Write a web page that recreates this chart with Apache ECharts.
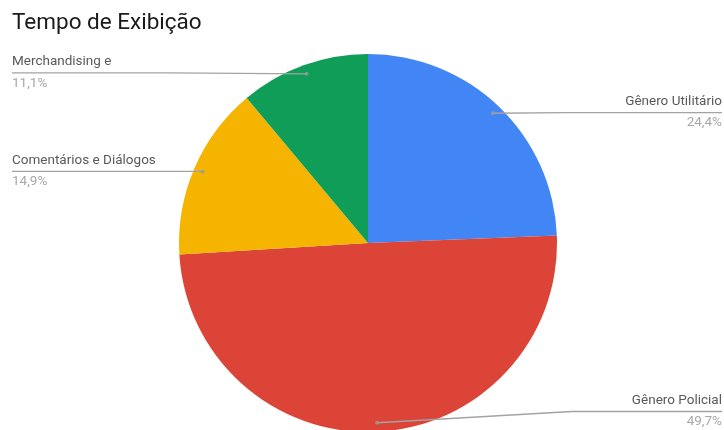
<!DOCTYPE html>
<html><head><meta charset="utf-8">
<script src="https://cdn.jsdelivr.net/npm/echarts@6/dist/echarts.min.js"></script>
<style>html,body{margin:0;padding:0;background:#fff}#c{width:724px;height:430px}</style>
</head><body><div id="c"></div>
<script>
const titleText = 'Tempo de Exibição';
const categories = ['Gênero Utilitário', 'Gênero Policial', 'Comentários e Diálogos', 'Merchandising e'];
const values = [24.4, 49.7, 14.9, 11.1];
const colors = ['#4285F4', '#DB4437', '#F4B400', '#0F9D58'];

const total = values.reduce((a, b) => a + b, 0);
const fmt = v => v.toFixed(1).replace('.', ',') + '%';
const mids = [];
let acc = 0;
values.forEach(v => { mids.push(acc + v / 2); acc += v; });

const CX = 368, CY = 243, R = 189, RDOT = 180;

const chart = echarts.init(document.getElementById('c'), null, {renderer: 'canvas'});
chart.setOption({
  animation: false,
  title: {
    text: titleText, left: 7, top: 7,
    textStyle: {fontFamily: 'Roboto', fontSize: 22.5, fontWeight: 'normal', color: '#1a1a1a'}
  },
  polar: {center: [CX, CY], radius: R},
  angleAxis: {type: 'value', min: 0, max: total, startAngle: 90, clockwise: true, show: false},
  radiusAxis: {type: 'value', min: 0, max: R, show: false},
  series: [
    {
      type: 'pie', silent: true, center: [CX, CY], radius: R, startAngle: 90, clockwise: true,
      label: {show: false}, labelLine: {show: false},
      itemStyle: {borderWidth: 0},
      data: categories.map((c, i) => ({name: c, value: values[i], itemStyle: {color: colors[i]}}))
    },
    {
      type: 'pie', silent: true, center: [CX, CY], radius: RDOT, startAngle: 90, clockwise: true, z: 5,
      itemStyle: {color: 'rgba(0,0,0,0)'},
      label: {
        show: true, alignTo: 'edge', edgeDistance: 12, distanceToLabelLine: 0,
        formatter: p => '{n|' + p.name + '}\n{v|' + fmt(p.value) + '}',
        rich: {
          n: {fontFamily: 'Roboto', fontSize: 13.5, color: '#5a5a5a', lineHeight: 21},
          v: {fontFamily: 'Roboto', fontSize: 13.5, color: '#a8a8a8', lineHeight: 22}
        }
      },
      labelLine: {show: true, length: 1, length2: 10, lineStyle: {color: '#a3a3a3', width: 1.3}},
      labelLayout: function (params) {
        const pts = params.labelLinePoints;
        if (!pts || !pts.length) return {};
        const r = params.labelRect;
        const right = r.x + r.width / 2 > CX;
        const ly = pts[pts.length - 1][1];
        const far = right ? r.x + r.width : r.x;
        const inner = right ? r.x : r.x + r.width;
        const p0 = pts[0];
        let bx = inner + (right ? -60 : 60);
        if (right ? bx < p0[0] : bx > p0[0]) bx = p0[0];
        return {labelLinePoints: [p0, [bx, ly], [far, ly]]};
      },
      data: categories.map((c, i) => ({
        name: c, value: values[i],
        label: {edgeDistance: mids[i] < total / 2 ? 2 : 12}
      }))
    },
    {
      type: 'scatter', coordinateSystem: 'polar', silent: true, z: 6,
      symbolSize: 4, itemStyle: {color: '#9a9a9a'},
      data: mids.map(m => [RDOT, m])
    }
  ]
});
</script>
</body></html>
